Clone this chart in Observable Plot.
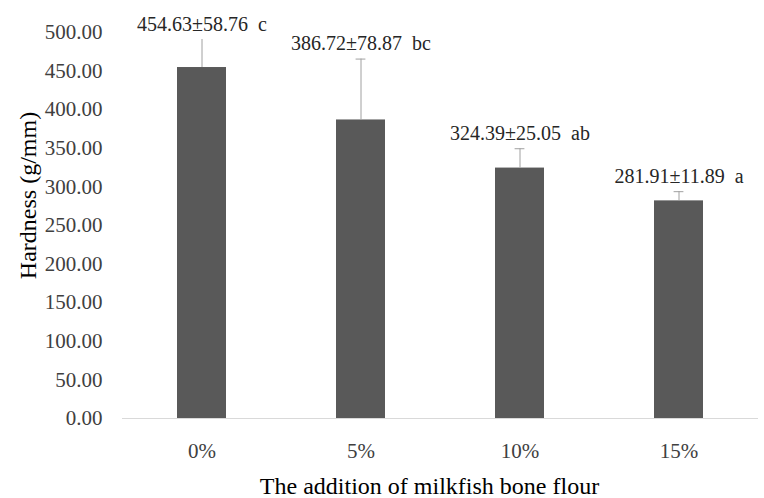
<!DOCTYPE html>
<html>
<head>
<meta charset="utf-8">
<script src="https://cdn.jsdelivr.net/npm/d3@7"></script>
<script src="https://cdn.jsdelivr.net/npm/@observablehq/plot@0.6"></script>
<style>
  html, body { margin: 0; padding: 0; background: #fff; }
  svg text { white-space: pre; font-family: 'Liberation Serif', 'Times New Roman', serif !important; }
</style>
</head>
<body>
<div id="chart"></div>
<script>
const categories = ["0%", "5%", "10%", "15%"];
const means = [454.63, 386.72, 324.39, 281.91];
const sds = [58.76, 78.87, 25.05, 11.89];
const letters = ["c", "bc", "ab", "a"];
const yTicks = [0, 50, 100, 150, 200, 250, 300, 350, 400, 450, 500];
const xTitle = "The addition of milkfish bone flour";
const yTitle = "Hardness (g/mm)";

const rows = categories.map((c, i) => ({
  cat: c,
  mean: means[i],
  sd: sds[i],
  top: means[i] + sds[i],
  labelAt: Math.min(means[i] + sds[i], 490),
  label: `${means[i].toFixed(2)}±${sds[i].toFixed(2)}  ${letters[i]}`
}));

const font = "'Liberation Serif', 'Times New Roman', serif";

const chart = Plot.plot({
  width: 764,
  height: 498,
  marginLeft: 122,
  marginRight: 6,
  marginTop: 32,
  marginBottom: 80,
  style: { fontFamily: font, background: "#fff", overflow: "visible" },
  x: { domain: categories, paddingInner: 0.69, paddingOuter: 0.345, label: null },
  y: { domain: [0, 500], label: null },
  marks: [
    Plot.axisY({ ticks: yTicks, tickSize: 0, tickPadding: 20, tickFormat: d => d.toFixed(2), fontSize: 21, fontFamily: font, fill: "#404040", label: null }),
    Plot.axisX({ tickSize: 0, tickPadding: 25, fontSize: 21, fontFamily: font, fill: "#404040", label: null }),
    Plot.barY(rows, { x: "cat", y: "mean", fill: "#595959" }),
    Plot.ruleY([0], { stroke: "#d9d9d9", strokeWidth: 1 }),
    Plot.ruleX(rows, { x: "cat", y1: "mean", y2: "top", stroke: "#a0a0a0", strokeWidth: 1, clip: true }),
    Plot.tickY(rows, { x: "cat", y: "top", stroke: "#a0a0a0", strokeWidth: 1, insetLeft: 19.6, insetRight: 19.6, clip: true }),
    Plot.text(rows, { x: "cat", y: "labelAt", text: "label", dy: -9, lineAnchor: "bottom", fontSize: 20, fontFamily: font, fill: "#262626", stroke: "white", strokeWidth: 16, paintOrder: "stroke" }),
    Plot.text([xTitle], { frameAnchor: "bottom", dx: -11, dy: 75, lineAnchor: "bottom", textAnchor: "middle", fontSize: 24, fontFamily: font, fill: "#000" }),
    Plot.text([yTitle], { frameAnchor: "left", dx: -94, dy: -30, rotate: -90, textAnchor: "middle", fontSize: 24, fontFamily: font, fill: "#000" })
  ]
});

document.getElementById("chart").appendChild(chart);
</script>
</body>
</html>
